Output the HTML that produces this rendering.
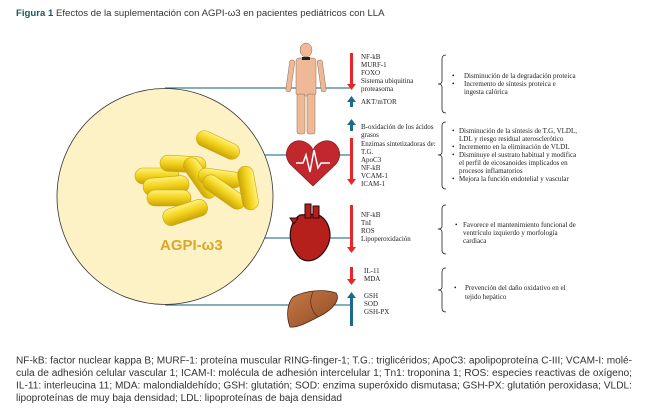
<!DOCTYPE html>
<html><head><meta charset="utf-8"><style>
body{margin:0;background:#fff;width:648px;height:414px;overflow:hidden;position:relative;font-family:"Liberation Sans",sans-serif}
.t{position:absolute;left:16px;top:8px;font-size:9.6px;color:#333}
.t b{color:#1d5565}
svg{position:absolute;left:0;top:0}
svg text{font-family:"Liberation Serif",serif;font-size:7px;fill:#222}
svg text.c{font-family:"Liberation Sans",sans-serif;font-size:10px;fill:#333}
</style></head><body>
<div class="t"><b>Figura 1</b> Efectos de la suplementación con AGPI-ω3 en pacientes pediátricos con LLA</div>
<svg width="648" height="414" viewBox="0 0 648 414">
<defs><linearGradient id="cp" x1="0" y1="0" x2="0" y2="1"><stop offset="0" stop-color="#fff27a"/><stop offset="0.5" stop-color="#f2d21a"/><stop offset="1" stop-color="#c9a40a"/></linearGradient>
<linearGradient id="lv" x1="0" y1="0" x2="1" y2="1"><stop offset="0" stop-color="#c87a4a"/><stop offset="1" stop-color="#8e4a22"/></linearGradient></defs>
<g stroke="#3d7f98" stroke-width="1.2">
<line x1="165" y1="88" x2="350" y2="88"/><line x1="262" y1="155" x2="350" y2="155"/><line x1="262" y1="238" x2="350" y2="238"/><line x1="165" y1="305" x2="350" y2="305"/></g>
<circle cx="165" cy="196.5" r="108" fill="#fdf1c6" stroke="#333" stroke-width="0.8"/>
<g stroke="#c9a40a" stroke-width="0.6" fill="url(#cp)">
<rect x="195" y="137" width="46" height="16" rx="8" transform="rotate(25 218 145)"/>
<rect x="135" y="168" width="44" height="16" rx="8"/>
<rect x="160" y="156" width="46" height="16" rx="8" transform="rotate(3 183 164)"/>
<rect x="143" y="177" width="46" height="17" rx="8" transform="rotate(-5 166 185)"/>
<rect x="147" y="190" width="44" height="16" rx="8"/>
<rect x="177" y="170" width="46" height="16" rx="8" transform="rotate(55 200 178)"/>
<rect x="198" y="170" width="44" height="16" rx="8" transform="rotate(8 220 178)"/>
<rect x="200" y="184" width="48" height="16" rx="8" transform="rotate(35 224 192)"/>
<rect x="226" y="180" width="44" height="16" rx="8" transform="rotate(80 248 188)"/>
<rect x="162" y="204" width="46" height="17" rx="8" transform="rotate(-18 185 212)"/>
</g>
<text x="160" y="250" style="font-family:'Liberation Sans',sans-serif;font-size:15px;font-weight:bold;fill:#dba72a">AGPI-ω3</text>
<!-- human -->
<g fill="#efb998" stroke="#8a6a55" stroke-width="0.5">
<ellipse cx="306" cy="50" rx="6" ry="7"/><rect x="296" y="58" width="20" height="38" rx="3"/>
<rect x="290" y="60" width="5" height="32" rx="2" transform="rotate(8 292 60)"/><rect x="317" y="60" width="5" height="32" rx="2" transform="rotate(-8 320 60)"/>
<rect x="297" y="94" width="8" height="40" rx="2"/><rect x="307" y="94" width="8" height="40" rx="2"/></g>
<rect x="302" y="57" width="8" height="3" fill="#222"/>
<!-- heart icon -->
<path d="M313 186 L290 164 C280 152 292 136 305 142 Q311 145 313 150 Q315 145 321 142 C334 136 346 152 336 164 Z" fill="#c1272d" stroke="#7a1518" stroke-width="0.6"/>
<polyline points="296,163 303,163 306,155 310,172 314,150 318,168 321,163 330,163" fill="none" stroke="#fff" stroke-width="1.5"/>
<!-- anatomical heart -->
<path d="M300 215 C288 222 286 245 300 258 C310 265 322 258 328 245 C333 232 328 218 316 214 Z" fill="#b5201c" stroke="#2a0a0a" stroke-width="1.2"/>
<rect x="305" y="204" width="6" height="14" fill="#b5201c" stroke="#2a0a0a"/><rect x="313" y="206" width="6" height="12" fill="#b5201c" stroke="#2a0a0a"/>
<path d="M290 218 l4 6 4-6 z" fill="#b5201c" stroke="#2a0a0a"/>
<!-- liver -->
<path d="M293 297 C306 290 325 289 336 293 C341 300 332 310 320 316 C308 322 298 328 290 327 C286 316 287 304 293 297 Z" fill="url(#lv)" stroke="#4a2410" stroke-width="0.8"/>
<path d="M313 292 C308 302 312 312 318 317" fill="none" stroke="#4a2410" stroke-width="0.6"/>
<!-- arrows -->
<g fill="#e8262a">
<rect x="350" y="53" width="3" height="32"/><path d="M347 84 h9 l-4.5 6 z"/>
<rect x="350" y="138" width="3" height="42"/><path d="M347 179 h9 l-4.5 6 z"/>
<rect x="350" y="205" width="3" height="43"/><path d="M347 247 h9 l-4.5 6 z"/>
<rect x="350" y="267" width="3" height="13"/><path d="M347 279 h9 l-4.5 6 z"/></g>
<g fill="#1d6b8a">
<rect x="350" y="101" width="3" height="6"/><path d="M347 102 h9 l-4.5 -6 z"/>
<rect x="350" y="124" width="3" height="7"/><path d="M347 125 h9 l-4.5 -6 z"/>
<rect x="350" y="297" width="3" height="29"/><path d="M347 298 h9 l-4.5 -6 z"/></g>
<g>
<text x="361" y="59">NF-kB</text><text x="361" y="67">MURF-1</text><text x="361" y="75">FOXO</text><text x="361" y="83">Sistema ubiquitina</text><text x="361" y="91">proteasoma</text><text x="361" y="104">AKT/mTOR</text>
<text x="361" y="129">B-oxidación de los ácidos</text><text x="361" y="137">grasos</text><text x="361" y="146">Enzimas sintetizadoras de:</text><text x="361" y="154">T.G.</text><text x="361" y="162">ApoC3</text><text x="361" y="170">NF-kB</text><text x="361" y="178">VCAM-1</text><text x="361" y="186">ICAM-1</text>
<text x="361" y="217">NF-kB</text><text x="361" y="225">TnI</text><text x="361" y="233">ROS</text><text x="361" y="241">Lipoperoxidación</text>
<text x="364" y="273">IL-11</text><text x="364" y="281">MDA</text><text x="364" y="298">GSH</text><text x="364" y="306">SOD</text><text x="364" y="314">GSH-PX</text>
</g>
<g fill="none" stroke="#222" stroke-width="0.8">
<path d="M446 55 q-4 0 -4 4 v22 q0 3 -4 3 q4 0 4 3 v22 q0 4 4 4"/>
<path d="M446 122 q-4 0 -4 4 v26 q0 3 -4 3 q4 0 4 3 v27 q0 4 4 4"/>
<path d="M446 205 q-4 0 -4 4 v17 q0 3 -4 3 q4 0 4 3 v18 q0 4 4 4"/>
<path d="M446 268 q-4 0 -4 4 v15 q0 3 -4 3 q4 0 4 3 v15 q0 4 4 4"/>
</g>
<g style="font-size:6.4px">
<text x="452" y="78">•</text><text x="464" y="78">Disminución de la degradación proteica</text>
<text x="452" y="86">•</text><text x="464" y="86">Incremento de síntesis proteica e</text><text x="464" y="94">ingesta calórica</text>
<text x="452" y="133">•</text><text x="459" y="133">Disminución de la síntesis de T.G, VLDL,</text><text x="459" y="141">LDL y riesgo residual aterosclerótico</text>
<text x="452" y="149">•</text><text x="459" y="149">Incremento  en la eliminación de VLDL</text>
<text x="452" y="157">•</text><text x="459" y="157">Disminuye el sustrato habitual y modifica</text><text x="459" y="165">el perfil de eicosanoides implicados en</text><text x="459" y="173">procesos inflamatorios</text>
<text x="452" y="181">•</text><text x="459" y="181">Mejora la función endotelial y vascular</text>
<text x="455" y="227">•</text><text x="463" y="227">Favorece el mantenimiento funcional de</text><text x="463" y="235">ventrículo izquierdo y morfología</text><text x="463" y="243">cardiaca</text>
<text x="454" y="290">•</text><text x="465" y="290">Prevención del daño oxidativo en el</text><text x="465" y="299">tejido hepático</text>
</g>
<text class="c" x="16" y="363.5" textLength="616" lengthAdjust="spacingAndGlyphs">NF-kB: factor nuclear kappa B; MURF-1: proteína muscular RING-finger-1; T.G.: triglicéridos; ApoC3: apolipoproteína C-III; VCAM-I: molé-</text>
<text class="c" x="16" y="376" textLength="616" lengthAdjust="spacingAndGlyphs">cula de adhesión celular vascular 1; ICAM-I: molécula de adhesión intercelular 1; Tn1: troponina 1; ROS: especies reactivas de oxígeno;</text>
<text class="c" x="16" y="388.5" textLength="616" lengthAdjust="spacingAndGlyphs">IL-11: interleucina 11; MDA: malondialdehído; GSH: glutatión; SOD: enzima superóxido dismutasa; GSH-PX: glutatión peroxidasa; VLDL:</text>
<text class="c" x="16" y="401" textLength="326" lengthAdjust="spacingAndGlyphs">lipoproteínas de muy baja densidad; LDL: lipoproteínas de baja densidad</text>
</svg>
</body></html>
